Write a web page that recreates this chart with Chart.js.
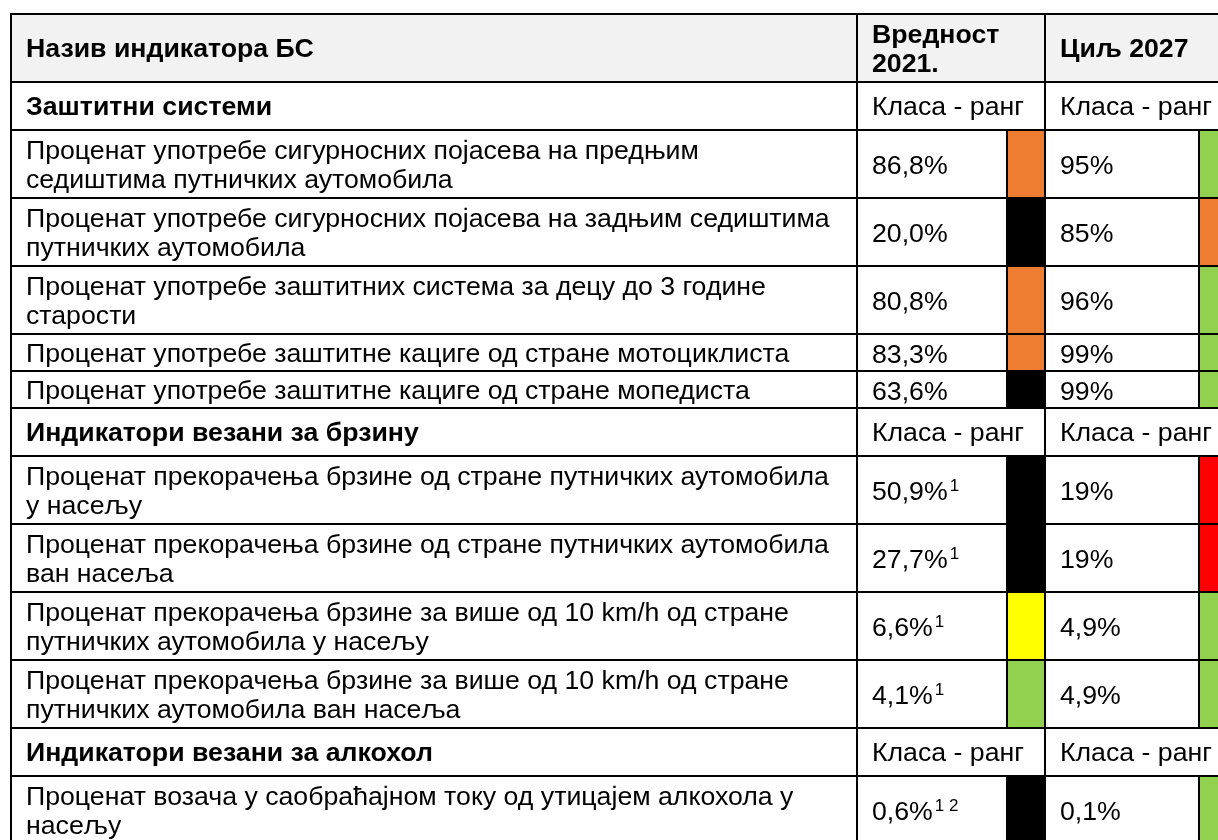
<!DOCTYPE html>
<html>
<head>
<meta charset="utf-8">
<script src="https://cdn.jsdelivr.net/npm/chart.js@4.4.1/dist/chart.umd.min.js"></script>
<style>
  html, body { margin: 0; padding: 0; background: #fff; }
  #wrap { width: 1218px; height: 840px; }
</style>
</head>
<body>
<div id="wrap"><canvas id="table"></canvas></div>
<script>
const headers = ['Назив индикатора БС', 'Вредност\n2021.', 'Циљ 2027'];
const classLabel = 'Класа - ранг';
const sections = ['Заштитни системи', 'Индикатори везани за брзину', 'Индикатори везани за алкохол'];
const indicators = [
  'Проценат употребе сигурносних појасева на предњим\nседиштима путничких аутомобила',
  'Проценат употребе сигурносних појасева на задњим седиштима\nпутничких аутомобила',
  'Проценат употребе заштитних система за децу до 3 године\nстарости',
  'Проценат употребе заштитне кациге од стране мотоциклиста',
  'Проценат употребе заштитне кациге од стране мопедиста',
  'Проценат прекорачења брзине од стране путничких аутомобила\nу насељу',
  'Проценат прекорачења брзине од стране путничких аутомобила\nван насеља',
  'Проценат прекорачења брзине за више од 10 km/h од стране\nпутничких аутомобила у насељу',
  'Проценат прекорачења брзине за више од 10 km/h од стране\nпутничких аутомобила ван насеља',
  'Проценат возача у саобраћајном току од утицајем алкохола у\nнасељу'
];
const rowSection = [0, 0, 0, 0, 0, 1, 1, 1, 1, 2];
const value2021 = [86.8, 20.0, 80.8, 83.3, 63.6, 50.9, 27.7, 6.6, 4.1, 0.6];
const note2021 = ['', '', '', '', '', '1', '1', '1', '1', '1 2'];
const rank2021 = ['orange', 'black', 'orange', 'orange', 'black', 'black', 'black', 'yellow', 'green', 'black'];
const target2027 = [95, 85, 96, 99, 99, 19, 19, 4.9, 4.9, 0.1];
const rank2027 = ['green', 'orange', 'green', 'green', 'green', 'red', 'red', 'green', 'green', 'green'];

// ---- look ----
const RANK_COLORS = { orange: '#ED7D31', black: '#000000', yellow: '#FFFF00', green: '#92D050', red: '#FF0000' };
const HEAD_BG = '#F2F2F2';
const FONT = '"Liberation Sans", Arial, sans-serif';
const FS = 26.7, LH = 29, PAD = 15;
const COLS = [11, 857, 1045, 1237];   // column edges (table units)
const SWATCH = 38;
const TOP = 14;
const H_HEAD = 68, H_SECTION = 48, H_ONE = 37, H_TWO = 68;

// 2021 values always carry one decimal, targets only when they have one
const fmt2021 = v => v.toFixed(1).replace('.', ',') + '%';
const fmt2027 = v => String(v).replace('.', ',') + '%';

// row stack
const rows = [{ kind: 'head', h: H_HEAD }];
let lastSec = -1;
indicators.forEach((txt, i) => {
  if (rowSection[i] !== lastSec) {
    lastSec = rowSection[i];
    rows.push({ kind: 'section', s: lastSec, h: H_SECTION });
  }
  rows.push({ kind: 'data', i, h: txt.includes('\n') ? H_TWO : H_ONE });
});
let acc = TOP;
rows.forEach(r => { r.y0 = acc; acc += r.h; r.y1 = acc; });

const tablePlugin = {
  id: 'tablePlugin',
  beforeDraw(chart) {
    const { ctx, scales: { x, y } } = chart;
    const px = v => Math.round(x.getPixelForValue(v));
    const py = v => Math.round(y.getPixelForValue(v));

    const rect = (x0, x1, y0, y1, color) => {
      ctx.fillStyle = color;
      ctx.fillRect(px(x0), py(y0), px(x1) - px(x0), py(y1) - py(y0));
    };

    const text = (str, left, r, bold, note, shift = 0) => {
      const lines = str.split('\n');
      const cy = (py(r.y0) + py(r.y1)) / 2;
      ctx.fillStyle = '#000';
      ctx.textBaseline = 'alphabetic';
      ctx.textAlign = 'left';
      lines.forEach((ln, k) => {
        const base = cy + 9 + shift + (k - (lines.length - 1) / 2) * LH;
        ctx.font = (bold ? 'bold ' : '') + FS + 'px ' + FONT;
        ctx.fillText(ln, px(left) + PAD, base);
        if (note && k === lines.length - 1) {
          const w = ctx.measureText(ln).width;
          ctx.font = '17px ' + FONT;
          ctx.fillText(note, px(left) + PAD + w + 2, base - 9);
        }
      });
    };

    ctx.save();
    // fills
    rows.forEach(r => {
      if (r.kind === 'head') rect(COLS[0], COLS[3], r.y0, r.y1, HEAD_BG);
      if (r.kind === 'data') {
        rect(COLS[2] - SWATCH, COLS[2], r.y0, r.y1, RANK_COLORS[rank2021[r.i]]);
        rect(COLS[3] - SWATCH, COLS[3], r.y0, r.y1, RANK_COLORS[rank2027[r.i]]);
      }
    });

    // texts
    rows.forEach(r => {
      if (r.kind === 'head') {
        headers.forEach((h, c) => text(h, COLS[c], r, true));
      } else if (r.kind === 'section') {
        text(sections[r.s], COLS[0], r, true);
        text(classLabel, COLS[1], r, false);
        text(classLabel, COLS[2], r, false);
      } else {
        text(indicators[r.i], COLS[0], r, false);
        text(fmt2021(value2021[r.i]), COLS[1], r, false, note2021[r.i], 1);
        text(fmt2027(target2027[r.i]), COLS[2], r, false, '', 1);
      }
    });

    // grid lines
    ctx.strokeStyle = '#000';
    ctx.lineWidth = 2;
    ctx.beginPath();
    const bottom = rows[rows.length - 1].y1;
    rows.forEach(r => {
      ctx.moveTo(px(COLS[0]) - 1, py(r.y0));
      ctx.lineTo(px(COLS[3]) + 1, py(r.y0));
    });
    ctx.moveTo(px(COLS[0]) - 1, py(bottom));
    ctx.lineTo(px(COLS[3]) + 1, py(bottom));
    COLS.forEach(c => {
      ctx.moveTo(px(c), py(TOP));
      ctx.lineTo(px(c), py(bottom));
    });
    rows.filter(r => r.kind === 'data').forEach(r => {
      [COLS[2], COLS[3]].forEach(edge => {
        ctx.moveTo(px(edge - SWATCH), py(r.y0));
        ctx.lineTo(px(edge - SWATCH), py(r.y1));
      });
    });
    ctx.stroke();
    ctx.restore();
  }
};

new Chart(document.getElementById('table'), {
  type: 'scatter',
  data: { datasets: [] },
  options: {
    responsive: true,
    maintainAspectRatio: false,
    animation: false,
    layout: { padding: 0 },
    plugins: { legend: { display: false }, tooltip: { enabled: false } },
    scales: {
      x: { type: 'linear', min: 0, max: 1218, display: false },
      y: { type: 'linear', min: 0, max: 840, reverse: true, display: false }
    }
  },
  plugins: [tablePlugin]
});
</script>
</body>
</html>
